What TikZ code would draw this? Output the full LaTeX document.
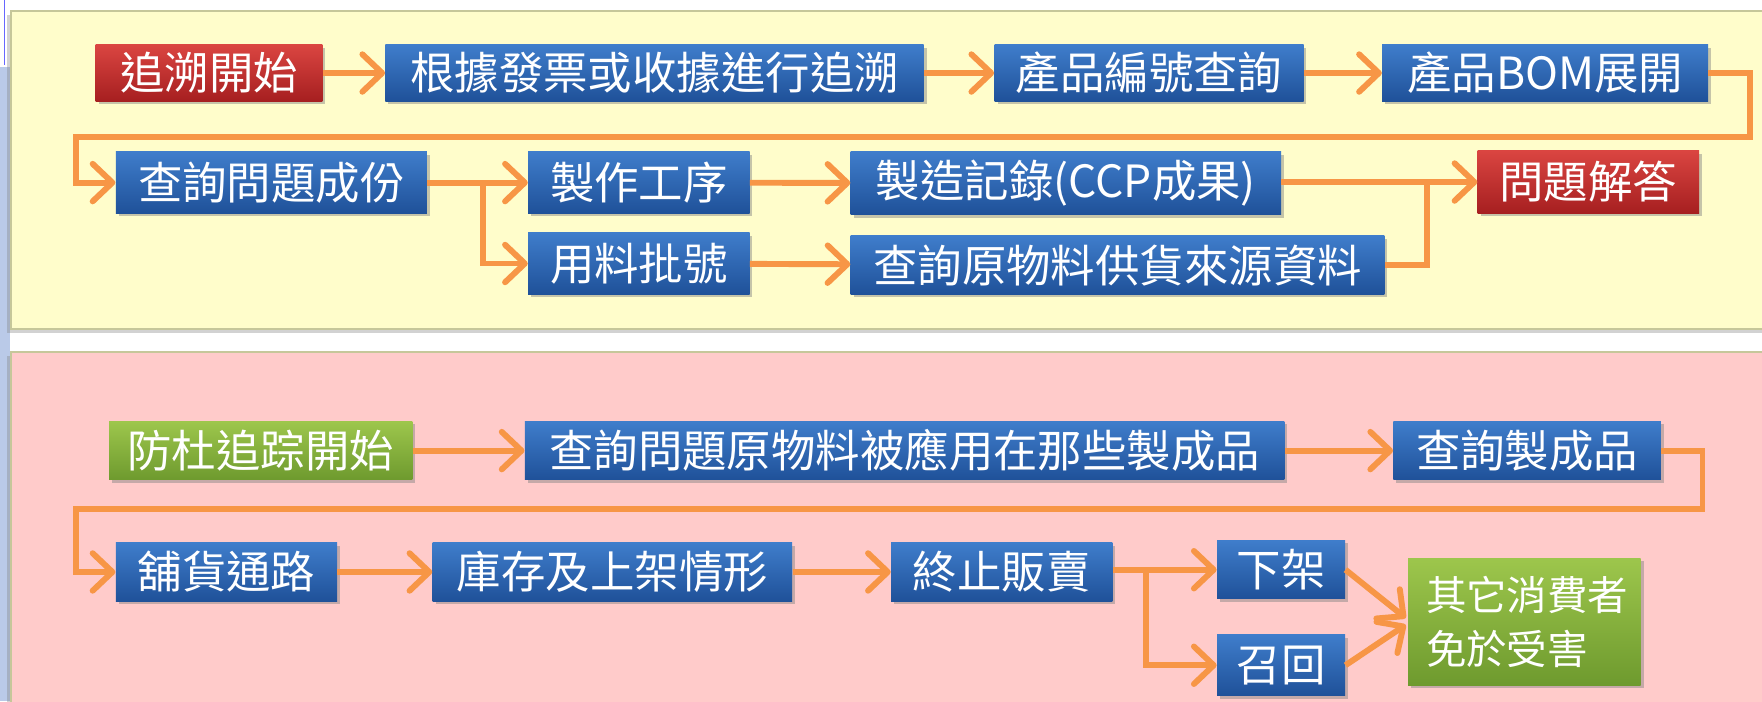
\documentclass[tikz,border=0pt]{standalone}
\usepackage{fontspec}
\setmainfont{Noto Sans CJK TC}
\usetikzlibrary{arrows.meta,shadows,calc}
\definecolor{panelY}{HTML}{FFFDCB}
\definecolor{panelP}{HTML}{FFCBCA}
\definecolor{panelB}{HTML}{C6C79A}
\definecolor{arrowO}{HTML}{F79646}
\definecolor{blueT}{HTML}{3F7DCB}
\definecolor{blueB}{HTML}{1F5199}
\definecolor{redT}{HTML}{DA4541}
\definecolor{redB}{HTML}{A61F20}
\definecolor{greenT}{HTML}{9DC64C}
\definecolor{greenB}{HTML}{6E9A2E}
\definecolor{stripC}{HTML}{BACAE8}
\tikzset{
  box/.style={draw=none, text=white, inner sep=0pt, align=center,
    font=\fontsize{22.5}{28}\selectfont,
    drop shadow={opacity=0.45, shadow xshift=1.5pt, shadow yshift=-1.5pt}},
  bluebox/.style={box, top color=blueT, bottom color=blueB},
  redbox/.style={box, top color=redT, bottom color=redB},
  greenbox/.style={box, top color=greenT, bottom color=greenB},
  arr/.style={draw=arrowO, line width=3pt, -{Straight Barb[round,length=10pt,width=19pt]}},
  ln/.style={draw=arrowO, line width=3pt},
  panel/.style={draw=panelB, line width=0.8pt,
    drop shadow={opacity=0.35, shadow xshift=-2pt, shadow yshift=-2pt}}
}
\begin{document}
\begin{tikzpicture}[x=0.02cm, y=-0.02cm]
\clip (0,0) rectangle (1568,624);
\fill[white] (0,0) rectangle (1568,624);
\fill[stripC] (0,60) rectangle (9,624);
\draw[blue!60, line width=0.6pt] (4,0) -- (4,58);
% panels
\path[panel, fill=panelY] (10,10) rectangle (1590,293);
\path[panel, fill=panelP] (10,313) rectangle (1590,660);

% ---- top panel nodes
\node[redbox, minimum width=4.04cm, minimum height=1.0cm] (s1) at (186,65) {追溯開始};
\node[bluebox, minimum width=9.58cm, minimum height=1.0cm] (s2) at (582.5,65) {根據發票或收據進行追溯};
\node[bluebox, minimum width=5.5cm, minimum height=1.0cm] (s3) at (1022.5,65) {產品編號查詢};
\node[bluebox, minimum width=5.8cm, minimum height=1.0cm] (s4) at (1375,65) {產品BOM展開};
\node[bluebox, minimum width=5.54cm, minimum height=1.1cm] (s5) at (241.5,162.5) {查詢問題成份};
\node[bluebox, minimum width=3.94cm, minimum height=1.1cm] (s6) at (568.5,162.5) {製作工序};
\node[bluebox, minimum width=7.66cm, minimum height=1.12cm] (s7) at (948.5,163) {製造記錄(CCP成果)};
\node[redbox, minimum width=3.94cm, minimum height=1.12cm] (s8) at (1413.5,162) {問題解答};
\node[bluebox, minimum width=3.94cm, minimum height=1.1cm] (s9) at (568.5,234.5) {用料批號};
\node[bluebox, minimum width=9.5cm, minimum height=1.04cm] (s10) at (994.5,236) {查詢原物料供貨來源資料};

\coordinate (t1) at (1557,122);
\coordinate (t2) at (68,122);
\coordinate (b1) at (430,162.5);
\coordinate (m1) at (1270,162);

\draw[arr] (s1) -- (s2);
\draw[arr] (s2) -- (s3);
\draw[arr] (s3) -- (s4);
\draw[arr] (s4.east) -| (t1) -- (t2) |- (s5.west);
\draw[ln] (s5.east) -- (b1);
\draw[arr] (b1) -- (s6.west);
\draw[arr] (b1) |- (s9.west);
\draw[arr] (s6) -- (s7);
\draw[arr] (s9) -- (s10);
\draw[arr] (s7.east |- m1) -- (m1 -| s8.west);
\draw[ln] (s10.east) -| (m1);

% ---- bottom panel nodes
\node[greenbox, minimum width=5.4cm, minimum height=1.04cm] (p1) at (232,401) {防杜追踪開始};
\node[bluebox, minimum width=13.52cm, minimum height=1.04cm] (p2) at (805,401) {查詢問題原物料被應用在那些製成品};
\node[bluebox, minimum width=4.76cm, minimum height=1.04cm] (p3) at (1359,401) {查詢製成品};
\node[bluebox, minimum width=3.94cm, minimum height=1.04cm] (p4) at (201.5,509) {舖貨通路};
\node[bluebox, minimum width=6.4cm, minimum height=1.04cm] (p5) at (545,509) {庫存及上架情形};
\node[bluebox, minimum width=3.94cm, minimum height=1.04cm] (p6) at (891.5,509) {終止販賣};
\node[bluebox, minimum width=2.28cm, minimum height=1.04cm] (p7) at (1140,507) {下架};
\node[bluebox, minimum width=2.28cm, minimum height=1.08cm] (p8) at (1140,592) {召回};
\node[greenbox, minimum width=4.14cm, minimum height=2.26cm, align=left, text width=3.5cm,
  font=\fontsize{20.5}{27}\selectfont] (p9) at (1356.5,553.5) {其它消費者\\免於受害};

\coordinate (u1) at (1515,453);
\coordinate (u2) at (68,453);
\coordinate (b2) at (1020,507);
\coordinate (g1) at (1251,550);
\coordinate (g2) at (1251,556);

\draw[arr] (p1) -- (p2);
\draw[arr] (p2) -- (p3);
\draw[arr] (p3.east) -| (u1) -- (u2) |- (p4.west);
\draw[arr] (p4) -- (p5);
\draw[arr] (p5) -- (p6);
\draw[ln] (p6.east |- b2) -- (b2);
\draw[arr] (b2) -- (p7.west);
\draw[arr] (b2) |- (p8.west);
\draw[arr] (p7.east) -- (g1);
\draw[arr] (p8.east) -- (g2);
\end{tikzpicture}
\end{document}
